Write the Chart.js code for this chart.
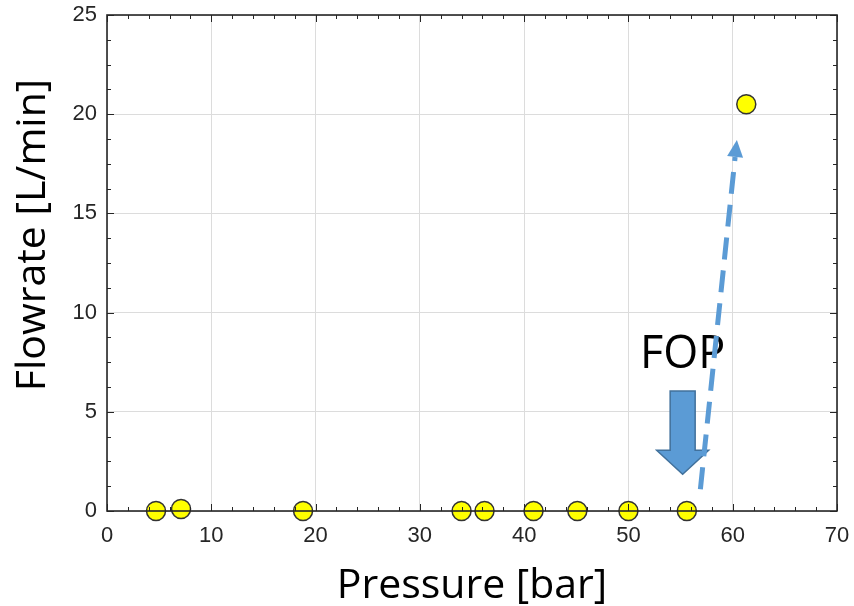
<!DOCTYPE html>
<html>
<head>
<meta charset="utf-8">
<script src="https://cdn.jsdelivr.net/npm/chart.js@4"></script>
<style>
  html, body { margin: 0; padding: 0; background: #fff; }
  #wrap { width: 854px; height: 606px; }
</style>
</head>
<body>
<div id="wrap"><canvas id="chart" width="854" height="606"></canvas></div>
<script>
// measured points, pressure [bar] vs flowrate [L/min]
const pressure = [4.7, 7.1, 18.8, 34.0, 36.2, 40.9, 45.1, 50.0, 55.6, 61.3];
const flowrate = [0, 0.1, 0, 0, 0, 0, 0, 0, 0, 20.5];

const xTicks = [0, 10, 20, 30, 40, 50, 60, 70];
const yTicks = [0, 5, 10, 15, 20, 25];

// annotation: FOP label, block arrow, dashed trend arrow (data coords)
const fopLabel = {x: 55.2, y: 7.2, text: 'FOP'};
const fopArrow = {x: 55.2, yTop: 6.05, yTip: 1.85};
const trendArrow = {x0: 56.9, y0: 1.1, x1: 60.4, y1: 18.7};

const BLUE = '#5b9bd5';
const BLUE_EDGE = '#41719c';

// box, inward ticks, annotations
const decor = {
  id: 'decor',
  afterDraw(chart) {
    const {ctx, chartArea: a, scales: {x, y}} = chart;
    ctx.save();

    // inward ticks on all four sides
    ctx.strokeStyle = '#262626';
    ctx.lineWidth = 1;
    ctx.beginPath();
    for (let v = 0; v <= 70; v += 2) {
      const px = Math.round(x.getPixelForValue(v)) + 0.5;
      const len = v % 10 === 0 ? 7 : 4;
      ctx.moveTo(px, a.bottom); ctx.lineTo(px, a.bottom - len);
      ctx.moveTo(px, a.top); ctx.lineTo(px, a.top + len);
    }
    for (let v = 0; v <= 25; v += 1.25) {
      const py = Math.round(y.getPixelForValue(v)) + 0.5;
      const len = v % 5 === 0 ? 7 : 4;
      ctx.moveTo(a.left, py); ctx.lineTo(a.left + len, py);
      ctx.moveTo(a.right, py); ctx.lineTo(a.right - len, py);
    }
    ctx.stroke();

    ctx.lineWidth = 1.6;
    ctx.strokeRect(a.left, a.top, a.right - a.left, a.bottom - a.top);

    // y title
    ctx.fillStyle = '#000';
    ctx.font = '41px "Open Sans"';
    ctx.textAlign = 'center';
    ctx.textBaseline = 'middle';
    ctx.translate(33, 235);
    ctx.rotate(-Math.PI / 2);
    ctx.fillText('Flowrate [L/min]', 0, 0);
    ctx.setTransform(1, 0, 0, 1, 0, 0);

    // FOP text
    ctx.font = '45px "Open Sans"';
    ctx.textBaseline = 'alphabetic';
    ctx.fillText(fopLabel.text, x.getPixelForValue(fopLabel.x), y.getPixelForValue(fopLabel.y));

    // block arrow
    const cx = x.getPixelForValue(fopArrow.x);
    const top = y.getPixelForValue(fopArrow.yTop);
    const tip = y.getPixelForValue(fopArrow.yTip);
    const headY = tip - 24;
    ctx.beginPath();
    ctx.moveTo(cx - 12.5, top);
    ctx.lineTo(cx + 12.5, top);
    ctx.lineTo(cx + 12.5, headY);
    ctx.lineTo(cx + 26, headY);
    ctx.lineTo(cx, tip);
    ctx.lineTo(cx - 26, headY);
    ctx.lineTo(cx - 12.5, headY);
    ctx.closePath();
    ctx.fillStyle = BLUE;
    ctx.fill();
    ctx.strokeStyle = BLUE_EDGE;
    ctx.lineWidth = 1.5;
    ctx.stroke();

    // dashed arrow
    const x0 = x.getPixelForValue(trendArrow.x0), y0 = y.getPixelForValue(trendArrow.y0);
    const x1 = x.getPixelForValue(trendArrow.x1), y1 = y.getPixelForValue(trendArrow.y1);
    const ang = Math.atan2(y1 - y0, x1 - x0);
    const hl = 17, hw = 8;
    const bx = x1 - hl * Math.cos(ang), by = y1 - hl * Math.sin(ang);
    ctx.strokeStyle = BLUE;
    ctx.lineWidth = 5;
    ctx.setLineDash([22, 11]);
    ctx.beginPath();
    ctx.moveTo(x0, y0);
    ctx.lineTo(bx, by);
    ctx.stroke();
    ctx.setLineDash([]);
    ctx.beginPath();
    ctx.moveTo(x1, y1);
    ctx.lineTo(bx + hw * Math.sin(ang), by - hw * Math.cos(ang));
    ctx.lineTo(bx - hw * Math.sin(ang), by + hw * Math.cos(ang));
    ctx.closePath();
    ctx.fillStyle = BLUE;
    ctx.fill();

    ctx.restore();
  }
};

const tickFont = {family: '"Liberation Sans", Arial', size: 22};

new Chart(document.getElementById('chart'), {
  type: 'scatter',
  data: {
    datasets: [{
      data: pressure.map((p, i) => ({x: p, y: flowrate[i]})),
      backgroundColor: '#ffff00',
      borderColor: '#333333',
      borderWidth: 1.5,
      pointRadius: 9.5,
      pointHoverRadius: 9.5,
      clip: false
    }]
  },
  options: {
    responsive: false,
    animation: false,
    layout: {padding: {top: 15, right: 17, left: 0, bottom: 0}},
    plugins: {legend: {display: false}, tooltip: {enabled: false}},
    scales: {
      x: {
        type: 'linear',
        min: 0, max: 70,
        afterBuildTicks: (s) => { s.ticks = xTicks.map(v => ({value: v})); },
        afterFit: (s) => { s.height = 95; s.paddingLeft = 0; s.paddingRight = 0; },
        grid: {color: '#dcdcdc', drawTicks: false, lineWidth: 1},
        border: {display: false},
        ticks: {color: '#262626', font: tickFont, padding: 12},
        title: {display: true, text: 'Pressure [bar]', color: '#000',
                font: {family: '"Open Sans"', size: 41, lineHeight: 0.95}, padding: {top: 7, bottom: 0}}
      },
      y: {
        type: 'linear',
        min: 0, max: 25,
        afterBuildTicks: (s) => { s.ticks = yTicks.map(v => ({value: v})); },
        afterFit: (s) => { s.width = 107; s.paddingTop = 0; s.paddingBottom = 0; },
        grid: {color: '#dcdcdc', drawTicks: false, lineWidth: 1},
        border: {display: false},
        ticks: {color: '#262626', font: tickFont, padding: 10},
        title: {display: false}
      }
    }
  },
  plugins: [decor]
});
</script>
</body>
</html>
